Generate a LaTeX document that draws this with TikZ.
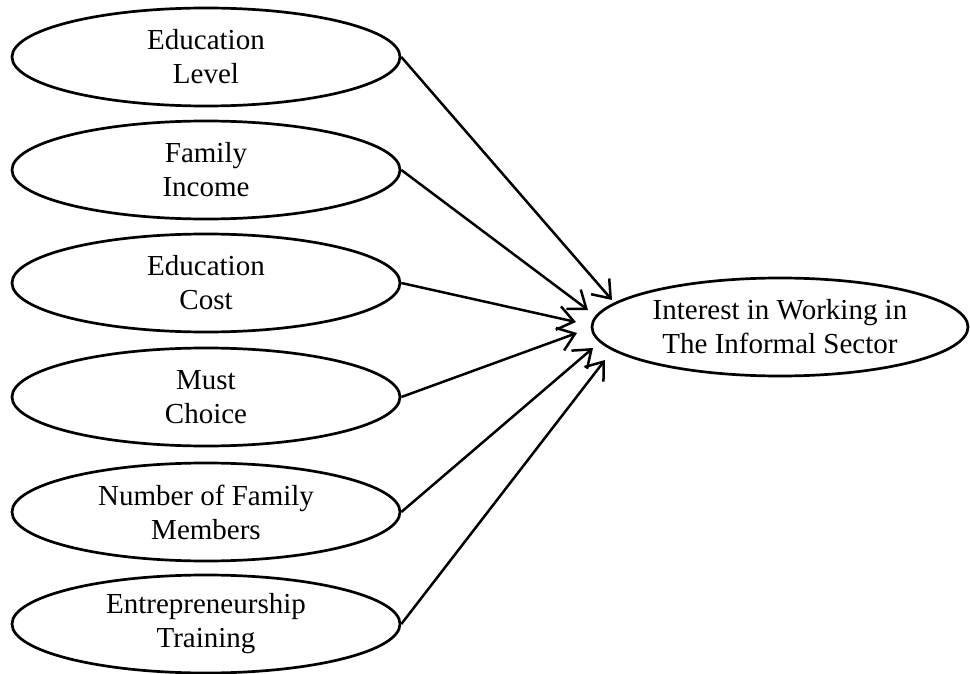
\documentclass[tikz,border=0pt]{standalone}
\usepackage{fontspec}
\setmainfont{Liberation Serif}
\usetikzlibrary{shapes.geometric,arrows.meta}

\tikzset{
  factor/.style={ellipse, draw=black, line width=2.7pt, minimum width=388pt,
    minimum height=98pt, inner sep=0pt, align=center,
    font=\fontsize{29}{34}\selectfont},
  outcome/.style={factor, minimum width=376pt},
  link/.style={line width=2.5pt,
    -{Straight Barb[length=16pt,width=24pt,line width=2.5pt]}}
}

\begin{document}
\begin{tikzpicture}[x=1pt,y=-1pt]
  \useasboundingbox (0,0) rectangle (970,674);

  % explanatory factors, stacked on the left
  \node[factor] (edu)  at (206,57)  {Education\\Level};
  \node[factor] (inc)  at (206,170) {Family\\Income};
  \node[factor] (cost) at (206,283) {Education\\Cost};
  \node[factor] (must) at (206,397) {Must\\Choice};
  \node[factor] (mem)  at (206,512) {Number of Family\\Members};
  \node[factor] (ent)  at (206,624) {Entrepreneurship\\Training};

  % dependent variable
  \node[outcome] (int) at (780,327) {Interest in Working in\\The Informal Sector};

  % arrow tips, fanned around the left side of the outcome
  \coordinate (t1) at (612,300);
  \coordinate (t2) at (588,310);
  \coordinate (t3) at (576,322);
  \coordinate (t4) at (577,333);
  \coordinate (t5) at (593,348);
  \coordinate (t6) at (605,360);

  \draw[link] (edu.east)  -- (t1);
  \draw[link] (inc.east)  -- (t2);
  \draw[link] (cost.east) -- (t3);
  \draw[link] (must.east) -- (t4);
  \draw[link] (mem.east)  -- (t5);
  \draw[link] (ent.east)  -- (t6);
\end{tikzpicture}
\end{document}
